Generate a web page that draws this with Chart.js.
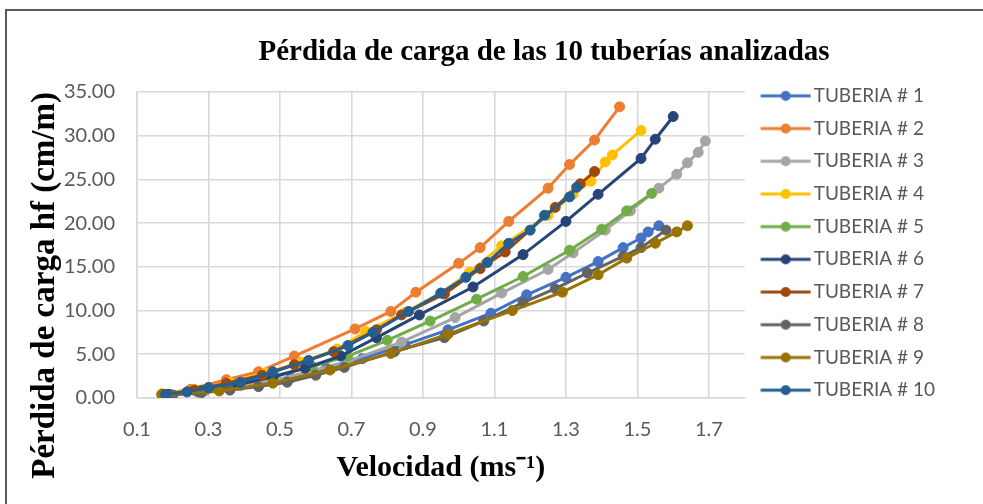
<!DOCTYPE html>
<html>
<head>
<meta charset="utf-8">
<script src="https://cdn.jsdelivr.net/npm/chart.js@4.4.1/dist/chart.umd.min.js"></script>
<style>
  html, body { margin: 0; padding: 0; background: #ffffff; overflow: hidden; }
  #wrap { position: relative; width: 983px; height: 504px; }
  #frame { position: absolute; left: 5px; top: 9px; width: 1200px; height: 800px;
           border-top: 2px solid #5a5a5a; border-left: 2px solid #5a5a5a; pointer-events: none; }
  canvas { position: absolute; left: 0; top: 0; }
</style>
</head>
<body>
<div id="wrap">
  <canvas id="c" width="983" height="504"></canvas>
  <div id="frame"></div>
</div>
<script>
// ---- data (velocidad m/s, pérdida de carga cm/m) ----
const seriesNames = ["TUBERIA # 1","TUBERIA # 2","TUBERIA # 3","TUBERIA # 4","TUBERIA # 5",
                     "TUBERIA # 6","TUBERIA # 7","TUBERIA # 8","TUBERIA # 9","TUBERIA # 10"];
const seriesColors = ["#4472C4","#ED7D31","#A5A5A5","#FFC000","#70AD47",
                      "#264478","#9E480E","#636363","#997300","#255E91"];

const vel1  = [0.18,0.27,0.36,0.44,0.53,0.63,0.73,0.85,0.97,1.09,1.19,1.30,1.39,1.46,1.51,1.53,1.56];
const hf1   = [0.35,0.7,1.1,1.5,2.3,3.4,4.5,6.1,7.8,9.7,11.8,13.8,15.6,17.2,18.3,19.0,19.7];
const vel2  = [0.17,0.25,0.35,0.44,0.54,0.71,0.81,0.88,1.00,1.06,1.14,1.25,1.31,1.38,1.45];
const hf2   = [0.4,1.0,2.1,3.0,4.8,7.9,9.9,12.1,15.4,17.2,20.2,24.0,26.7,29.5,33.3];
const vel3  = [0.19,0.29,0.39,0.49,0.58,0.69,0.84,0.99,1.12,1.25,1.32,1.41,1.48,1.56,1.61,1.64,1.67,1.69];
const hf3   = [0.4,0.8,1.4,2.1,3.0,4.2,6.4,9.2,12.0,14.7,16.6,19.2,21.4,24.0,25.6,26.9,28.1,29.4];
const vel4  = [0.17,0.26,0.36,0.46,0.56,0.66,0.74,0.85,0.95,1.03,1.12,1.25,1.32,1.37,1.41,1.43,1.51];
const hf4   = [0.5,1.0,1.8,2.9,4.1,5.6,7.6,9.8,12.0,14.4,17.4,20.9,23.3,24.8,27.0,27.8,30.6];
const vel5  = [0.18,0.28,0.38,0.48,0.59,0.69,0.80,0.92,1.05,1.18,1.31,1.40,1.47,1.54];
const hf5   = [0.4,0.9,1.6,2.5,3.6,4.8,6.6,8.8,11.3,13.9,16.9,19.3,21.4,23.4];
const vel6  = [0.19,0.28,0.38,0.48,0.57,0.67,0.77,0.89,1.04,1.18,1.30,1.39,1.51,1.55,1.60];
const hf6   = [0.4,0.8,1.5,2.4,3.4,4.8,6.9,9.5,12.7,16.4,20.2,23.3,27.4,29.6,32.2];
const vel7  = [0.17,0.26,0.35,0.45,0.54,0.65,0.77,0.84,0.96,1.06,1.13,1.27,1.34,1.38];
const hf7   = [0.4,0.9,1.7,2.6,3.8,5.3,7.8,9.5,11.9,14.8,16.7,21.8,24.5,25.9];
const vel8  = [0.20,0.28,0.36,0.44,0.52,0.60,0.68,0.82,0.96,1.07,1.18,1.27,1.36,1.46,1.51,1.58];
const hf8   = [0.35,0.6,0.9,1.3,1.8,2.6,3.5,5.3,6.9,8.8,10.9,12.5,14.3,16.2,17.2,19.2];
const vel9  = [0.17,0.33,0.48,0.64,0.81,0.97,1.15,1.29,1.39,1.47,1.55,1.61,1.64];
const hf9   = [0.35,0.8,1.7,3.2,5.1,7.3,10.0,12.1,14.1,16.0,17.7,19.0,19.7];
const vel10 = [0.18,0.24,0.30,0.39,0.48,0.58,0.69,0.76,0.86,0.95,1.02,1.08,1.14,1.20,1.24,1.31,1.33];
const hf10  = [0.4,0.7,1.2,1.8,3.0,4.3,6.0,7.5,9.9,12.0,13.8,15.5,17.7,19.2,20.9,23.0,24.1];

const xTicks = [0.1,0.3,0.5,0.7,0.9,1.1,1.3,1.5,1.7];
const yTicks = [0,5,10,15,20,25,30,35];

const velList = [vel1,vel2,vel3,vel4,vel5,vel6,vel7,vel8,vel9,vel10];
const hfList  = [hf1,hf2,hf3,hf4,hf5,hf6,hf7,hf8,hf9,hf10];

// legend sample: line with marker (transparent margin on the left)
function legendSample(color) {
  const cv = document.createElement('canvas');
  cv.width = 60; cv.height = 12;
  const g = cv.getContext('2d');
  g.strokeStyle = color; g.lineWidth = 3;
  g.beginPath(); g.moveTo(9.4, 6); g.lineTo(59.4, 6); g.stroke();
  g.fillStyle = color;
  g.beginPath(); g.arc(34.4, 6, 5, 0, Math.PI * 2); g.fill();
  return cv;
}
const legendImgs = seriesColors.map(legendSample);

const datasets = seriesNames.map((name, i) => ({
  label: name,
  data: velList[i].map((v, k) => ({ x: v, y: hfList[i][k] })),
  showLine: true,
  borderColor: seriesColors[i],
  backgroundColor: seriesColors[i],
  borderWidth: 3,
  pointRadius: 5,
  pointBorderWidth: 1,
  pointBackgroundColor: seriesColors[i],
  pointBorderColor: seriesColors[i],
  order: 9 - i,
  tension: 0
}));

const tickFont = { family: 'Lato, "Liberation Sans", sans-serif', size: 20 };
const legendFont = { family: 'Lato, "Liberation Sans", sans-serif', size: 19 };
const tickColor = '#595959';

const shiftTitle = {
  id: 'shiftTitle',
  afterLayout(chart) {
    const t = chart.titleBlock;
    if (t) { t.left = 105; t.right = 983; }
  }
};

new Chart(document.getElementById('c'), {
  type: 'scatter',
  data: { datasets },
  plugins: [shiftTitle],
  options: {
    responsive: false,
    animation: false,
    layout: { padding: { left: 8, right: 38, top: 0, bottom: 18 } },
    plugins: {
      title: {
        display: true,
        text: 'Pérdida de carga de las 10 tuberías analizadas',
        color: '#000000',
        font: { family: '"Liberation Serif", "Times New Roman", serif', size: 29, weight: 'bold' },
        padding: { top: 35, bottom: 22.2 }
      },
      legend: {
        display: true,
        position: 'right',
        labels: {
          usePointStyle: true,
          pointStyleWidth: 45.8,
          padding: 13.7,
          color: tickColor,
          font: legendFont,
          sort: (a, b) => a.datasetIndex - b.datasetIndex,
          generateLabels(chart) {
            const items = Chart.defaults.plugins.legend.labels.generateLabels(chart);
            items.forEach(it => { it.pointStyle = legendImgs[it.datasetIndex]; });
            return items;
          }
        }
      },
      tooltip: { enabled: false }
    },
    scales: {
      x: {
        type: 'linear',
        min: 0.1,
        max: 1.8,
        afterBuildTicks: (s) => { s.ticks = xTicks.map(v => ({ value: v })); },
        afterFit: (s) => { s.height = 88; },
        grid: { color: '#D9D9D9', lineWidth: 1.6, drawTicks: false },
        border: { color: '#D9D9D9', width: 1.6 },
        ticks: { color: tickColor, font: tickFont, padding: 20, maxRotation: 0,
                 callback: (v) => Number(v).toFixed(1) },
        title: {
          display: true,
          text: 'Velocidad (ms⁻¹)',
          color: '#000000',
          font: { family: '"Liberation Serif", "Times New Roman", serif', size: 30, weight: 'bold' },
          padding: { top: 0, bottom: 0 }
        }
      },
      y: {
        type: 'linear',
        min: 0,
        max: 35,
        afterBuildTicks: (s) => { s.ticks = yTicks.map(v => ({ value: v })); },
        afterFit: (s) => { s.width = 129; },
        grid: { color: '#D9D9D9', lineWidth: 1.6, drawTicks: false },
        border: { color: '#D9D9D9', width: 1.6 },
        ticks: { color: tickColor, font: tickFont, padding: 22,
                 callback: (v) => Number(v).toFixed(2) },
        title: {
          display: true,
          align: 'end',
          text: 'Pérdida de carga hf (cm/m)',
          color: '#000000',
          font: { family: '"Liberation Serif", "Times New Roman", serif', size: 33, weight: 'bold' },
          padding: { top: 18, bottom: 0 }
        }
      }
    }
  }
});
</script>
</body>
</html>
